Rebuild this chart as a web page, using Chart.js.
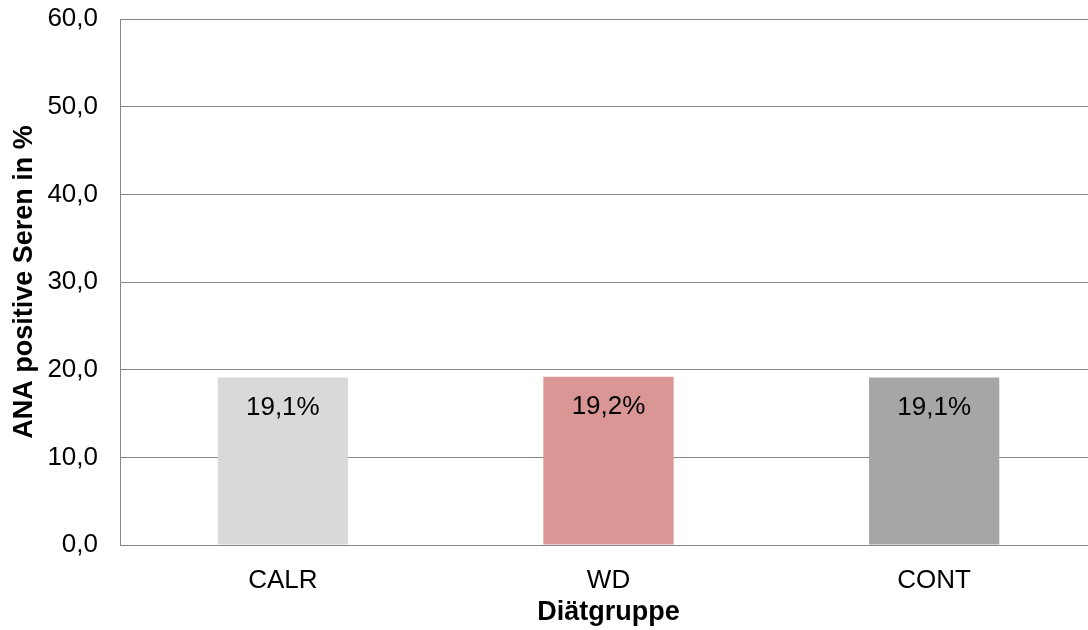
<!DOCTYPE html>
<html>
<head>
<meta charset="utf-8">
<script src="https://cdn.jsdelivr.net/npm/chart.js@4/dist/chart.umd.min.js"></script>
<style>
  html, body { margin: 0; padding: 0; background: #fff; overflow: hidden; }
  #wrap { width: 1097px; height: 630px; }
</style>
</head>
<body>
<div id="wrap"><canvas id="anaChart"></canvas></div>
<script>
// Diet groups and share of ANA positive sera (%)
const groups = ['CALR', 'WD', 'CONT'];
const positiveShare = [19.1, 19.2, 19.1];
const barColors = ['#d9d9d9', '#d99694', '#a6a6a6'];

const axisGray = '#868686';
const fontFamily = '"Liberation Sans", Arial, sans-serif';
const textSize = 26;
const titleSize = 27;

function fmt(v, digits) {
    return v.toFixed(digits).replace('.', ',');
}

// Writes the percentage inside each bar, just below its top
const valueLabels = {
    id: 'valueLabels',
    afterDatasetsDraw(chart) {
        const ctx = chart.ctx;
        const meta = chart.getDatasetMeta(0);
        ctx.save();
        ctx.font = textSize + 'px ' + fontFamily;
        ctx.fillStyle = '#000';
        ctx.textAlign = 'center';
        ctx.textBaseline = 'middle';
        meta.data.forEach((bar, i) => {
            ctx.fillText(fmt(positiveShare[i], 1) + '%', bar.x, bar.y + 30);
        });
        ctx.restore();
    }
};

const ctx = document.getElementById('anaChart').getContext('2d');
new Chart(ctx, {
    type: 'bar',
    data: {
        labels: groups,
        datasets: [{
            data: positiveShare,
            backgroundColor: barColors,
            borderWidth: 0,
            barPercentage: 0.4,
            categoryPercentage: 1.0
        }]
    },
    options: {
        responsive: true,
        maintainAspectRatio: false,
        animation: false,
        layout: { padding: { top: 19, left: 0, right: 0, bottom: 0 } },
        plugins: {
            legend: { display: false },
            tooltip: { enabled: false }
        },
        scales: {
            x: {
                grid: { display: false },
                border: { display: true, color: axisGray, width: 1 },
                ticks: {
                    color: '#000',
                    font: { family: fontFamily, size: textSize },
                    padding: 12
                },
                title: {
                    display: true,
                    text: 'Diätgruppe',
                    color: '#000',
                    font: { family: fontFamily, size: titleSize, weight: 'bold' },
                    padding: { top: 4, bottom: 1 }
                },
                afterFit(scale) { scale.height = 85; }
            },
            y: {
                min: 0,
                max: 60,
                ticks: {
                    stepSize: 10,
                    color: '#000',
                    font: { family: fontFamily, size: textSize },
                    padding: 22,
                    callback: v => fmt(v, 1)
                },
                grid: { color: axisGray, lineWidth: 1, drawTicks: false },
                border: { display: true, color: axisGray, width: 1 },
                title: {
                    display: true,
                    text: 'ANA positive Seren in %',
                    color: '#000',
                    font: { family: fontFamily, size: titleSize, weight: 'bold' },
                    padding: { top: 8, bottom: 0 }
                },
                afterFit(scale) {
                    scale.width = 120;
                    // top tick label may overflow the top padding
                    scale.paddingTop = 0;
                    scale.paddingBottom = 0;
                }
            }
        }
    },
    plugins: [valueLabels]
});
</script>
</body>
</html>
